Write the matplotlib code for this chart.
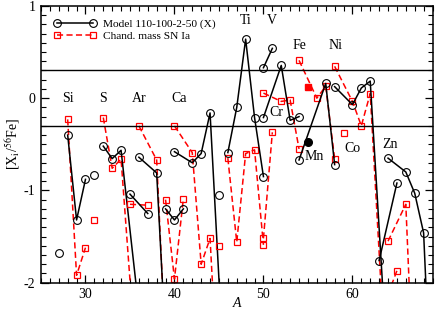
import numpy as np
import matplotlib
matplotlib.use('Agg')
import matplotlib.pyplot as plt
from matplotlib.ticker import MultipleLocator

plt.rcParams['font.family'] = ['Liberation Serif', 'DejaVu Serif']
plt.rcParams['mathtext.fontset'] = 'stix'
plt.rcParams['axes.unicode_minus'] = False

# isotopes grouped by element (nan = not drawn)
elements = ['Al', 'Si', 'P', 'S', 'Cl', 'Ar', 'K', 'Ca', 'Sc', 'Ti', 'V', 'Cr',
            'Mn', 'Fe', 'Co', 'Ni', 'Cu', 'Zn']
mass_numbers = [[27], [28, 29, 30], [31], [32, 33, 34, 36], [35, 37],
                [36, 38, 40], [39, 40, 41], [40, 42, 43, 44, 46], [45],
                [46, 47, 48, 49, 50], [50, 51], [50, 52, 53, 54], [55],
                [54, 56, 57, 58], [59], [58, 60, 61, 62, 64], [63, 65],
                [64, 66, 67, 68, 70]]
model_vals = [[-1.68], [-0.40, -1.32, -0.88], [-0.83], [-0.52, -0.655, -0.565, -2.29],
              [-1.04, -1.25], [-0.64, -0.81, -4.47], [-1.20, -1.32, -1.20],
              [-0.58, -0.70, -0.60, -0.16, -3.77], [-1.05],
              [-0.59, -0.10, 0.64, -0.21, -0.85], [0.33, 0.54], [-0.21, 0.355, -0.24, -0.20],
              [-0.47], [-0.67, np.nan, 0.16, -0.72], [np.nan],
              [0.125, -0.07, 0.11, 0.185, -3.0], [-1.76, -0.92],
              [-0.65, -0.80, -1.03, -1.46, -5.8]]
chand_vals = [[np.nan], [-0.23, -1.92, -1.62], [-1.32], [-0.21, -0.76, -0.66, -3.28],
              [-1.15, -1.16], [-0.30, -0.67, -4.77], [-1.10, -1.96, -1.09],
              [-0.30, -0.59, -1.80, -1.52, -5.1], [-1.60],
              [-0.65, -1.56, -0.60, -0.56, -1.59], [-1.52, -0.37], [0.055, -0.035, -0.02, -0.55],
              [0.12], [0.41, 0.0, 0.13, -0.66], [-0.38],
              [0.345, -0.035, -0.30, 0.05, -3.39], [-2.38, -1.87],
              [-1.55, -1.15, -3.45]]
chand_mass = [m[:len(v)] for m, v in zip(mass_numbers, chand_vals)]

label_names = ['Si', 'S', 'Ar', 'Ca', 'Ti', 'V', 'Fe', 'Ni', 'Cr', 'Mn', 'Co', 'Zn']
label_A = [28, 32, 36, 40.5, 48, 51, 54, 58.1, 51.5, 55.7, 60, 64.2]
label_y = [0.0, 0.0, 0.0, 0.0, 0.84, 0.84, 0.57, 0.57, -0.16, -0.63, -0.55, -0.5]

fig = plt.figure(figsize=(4.36, 3.11), dpi=100)
ax = fig.add_axes([0.094, 0.091, 0.898, 0.890])

dash = (0, (4, 2.2))
for el, A, ym, yc, Ac in zip(elements, mass_numbers, model_vals, chand_vals, chand_mass):
    A = np.array(A, dtype=float)
    ym = np.array(ym, dtype=float)
    yc = np.array(yc, dtype=float)
    Ac = np.array(Ac, dtype=float)
    ok = np.isfinite(ym)
    okc = np.isfinite(yc)
    if el == 'Mn':
        ax.plot(A[ok], ym[ok], 'o', color='black', ms=5.5, zorder=4)
        ax.plot(Ac[okc], yc[okc], 's', color='red', ms=5, zorder=4)
        continue
    ax.plot(Ac[okc], yc[okc], color='red', ls=dash, lw=1.1, marker='s', ms=4.8,
            mfc='none', mec='red', mew=0.9)
    ax.plot(A[ok], ym[ok], color='black', lw=1.1, marker='o', ms=5.6,
            mfc='none', mec='black', mew=0.8)

ax.axhline(0.3, color='black', lw=1.0)
ax.axhline(-0.3, color='black', lw=1.0)

for name, xa, ya in zip(label_names, label_A, label_y):
    ax.text(xa, ya, name, fontsize=10, ha='center', va='center')

# legend handles
h1, = ax.plot([], [], color='black', lw=1.1, marker='o', ms=5.6, mfc='none', mew=0.8)
h2, = ax.plot([], [], color='red', ls=dash, lw=1.1, marker='s', ms=4.8, mfc='none', mew=0.9)
ax.legend([h1, h2], ['Model 110-100-2-50 (X)', 'Chand. mass SN Ia'], loc='upper left',
          frameon=False, numpoints=2, handlelength=3.8, fontsize=8.2,
          bbox_to_anchor=(0.02, 0.97), borderaxespad=0.0, labelspacing=0.15,
          handletextpad=0.6)

ax.set_xlim(25, 69)
ax.set_ylim(-2, 1)
ax.xaxis.set_major_locator(MultipleLocator(10))
ax.xaxis.set_minor_locator(MultipleLocator(1))
ax.yaxis.set_major_locator(MultipleLocator(1))
ax.yaxis.set_minor_locator(MultipleLocator(0.1))
ax.tick_params(which='both', direction='in', top=True, right=True, labelsize=10)
ax.tick_params(which='major', length=6, width=0.9, pad=4)
ax.tick_params(which='minor', length=3.5, width=0.8)
for s in ax.spines.values():
    s.set_linewidth(1.1)

ax.set_xlabel('A', fontsize=10, fontstyle='italic', labelpad=-3)
ax.set_ylabel(r'[X$_{\rm i}$/$^{56}$Fe]', fontsize=10, labelpad=1)

fig.savefig('out.png', dpi=100)
